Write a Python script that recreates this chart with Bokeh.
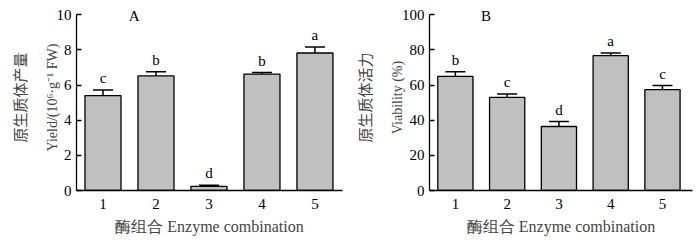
from bokeh.plotting import figure
from bokeh.layouts import row
from bokeh.models import LinearAxis, Range1d, Whisker, ColumnDataSource, Label, FixedTicker
from bokeh.core.properties import value
from bokeh.embed import file_html
from bokeh.resources import INLINE

categories = [1, 2, 3, 4, 5]
tick_labels = ["1", "2", "3", "4", "5"]
yield_vals = [5.40, 6.52, 0.24, 6.62, 7.82]
yield_err_top = [5.71, 6.75, 0.30, 6.71, 8.16]
yield_letters = ["c", "b", "d", "b", "a"]
viab_vals = [64.9, 53.0, 36.4, 76.7, 57.4]
viab_err_top = [67.6, 54.9, 39.2, 78.2, 59.7]
viab_letters = ["b", "c", "d", "a", "c"]

SERIF = "Liberation Serif"
CJK = "Noto Sans CJK SC"


def make_panel(vals, tops, letters, ymax, yticks, ylab_cn, ylab_en, panel, border_left, xmax):
    src = ColumnDataSource(dict(x=categories, top=vals, err=tops, lab=letters))
    # frame extends a little above the top tick so the panel letter is not clipped
    ytop = ymax * 186.0 / 175.8
    p = figure(width=350, height=241, output_backend="svg", toolbar_location=None,
               x_range=Range1d(0.5, xmax), y_range=Range1d(0, ytop),
               min_border_left=border_left, min_border_right=8, min_border_top=4,
               min_border_bottom=51, y_axis_location=None, x_axis_location=None)
    p.outline_line_color = None
    p.grid.visible = False
    p.background_fill_color = "white"
    p.border_fill_color = "white"

    p.vbar(x="x", top="top", width=0.68, source=src, fill_color="#c0c0c0",
           line_color="black", line_width=1.3)
    w = Whisker(base="x", lower="top", upper="err", source=src, line_color="black",
                line_width=1.5, lower_head=None)
    w.upper_head.size = 20
    w.upper_head.line_width = 1.5
    p.add_layout(w)
    p.text(x="x", y="err", text="lab", source=src, text_align="center",
           text_baseline="bottom", y_offset=-4, text_font=value(SERIF),
           text_font_size="15px", text_color="black")

    # y axis (main, closest to frame)
    ya = LinearAxis(ticker=FixedTicker(ticks=yticks), bounds=(0, ymax))
    ya.major_tick_in = 5
    ya.major_tick_out = 0
    ya.minor_tick_line_color = None
    ya.major_label_standoff = 5
    ya.major_label_text_font = SERIF
    ya.major_label_text_font_size = "15px"
    ya.major_label_text_color = "black"
    ya.axis_line_width = 1.3
    ya.major_tick_line_width = 1.3
    ya.axis_label = ylab_en
    ya.axis_label_text_font = SERIF
    ya.axis_label_text_font_size = "14px"
    ya.axis_label_text_font_style = "normal"
    ya.axis_label_standoff = -6
    p.add_layout(ya, "left")

    ya2 = LinearAxis(ticker=FixedTicker(ticks=[]))
    ya2.axis_line_color = None
    ya2.major_tick_line_color = None
    ya2.minor_tick_line_color = None
    ya2.major_label_text_font_size = "0px"
    ya2.axis_label = ylab_cn
    ya2.axis_label_text_font = CJK
    ya2.axis_label_text_font_size = "15px"
    ya2.axis_label_text_font_style = "normal"
    ya2.axis_label_standoff = 12
    p.add_layout(ya2, "left")

    xa = LinearAxis(ticker=FixedTicker(ticks=categories),
                    major_label_overrides={c: t for c, t in zip(categories, tick_labels)})
    xa.major_tick_line_color = None
    xa.minor_tick_line_color = None
    xa.major_label_standoff = 2
    xa.major_label_text_font = SERIF
    xa.major_label_text_font_size = "15px"
    xa.major_label_text_color = "black"
    xa.axis_line_width = 1.3
    xa.axis_label = "酶组合 Enzyme combination"
    xa.axis_label_text_font = SERIF
    xa.axis_label_text_font_size = "16px"
    xa.axis_label_text_font_style = "normal"
    xa.axis_label_standoff = 6
    p.add_layout(xa, "below")

    p.add_layout(Label(x=1.59, y=ymax * 0.99, text=panel, text_font=SERIF,
                       text_font_size="15px", text_align="center",
                       text_baseline="middle", text_color="black"))
    return p


pA = make_panel(yield_vals, yield_err_top, yield_letters, 10, [0, 2, 4, 6, 8, 10],
                "原生质体产量", "Yield/(10⁶·g⁻¹ FW)", "A", 76, 5.52)
pB = make_panel(viab_vals, viab_err_top, viab_letters, 100, [0, 20, 40, 60, 80, 100],
                "原生质体活力", "Viability (%)", "B", 73, 5.58)

layout = row(pA, pB)
open("out.html", "w").write(file_html(layout, INLINE))
